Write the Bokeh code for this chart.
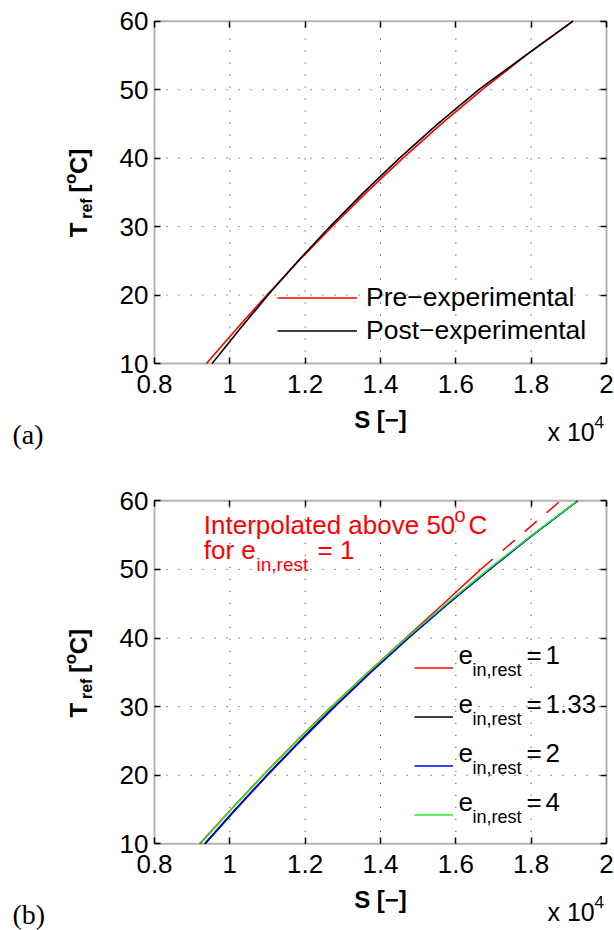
import math
from bokeh.plotting import figure
from bokeh.models import (Label, Legend, LegendItem, FixedTicker, LinearAxis,
                          Range1d, BoxAnnotation, CustomJSTickFormatter)
from bokeh.layouts import column
from bokeh.embed import file_html
from bokeh.resources import INLINE

# ---------------- data ----------------
# panel (a)
T_a = [10, 15, 20, 25, 30, 35, 40, 45, 50, 55, 60]
S_pre = [9380, 10170, 10985, 11830, 12710, 13630, 14595, 15615, 16700, 17860, 19110]
S_post = [9530, 10260, 11015, 11815, 12660, 13555, 14505, 15520, 16610, 17850, 19110]

# panel (b)
T_b = [10, 15, 20, 25, 30, 35, 40, 45, 50, 55, 60]
S_e133 = [9330, 10140, 10980, 11860, 12770, 13730, 14730, 15785, 16890, 18035, 19235]
S_e2 = [9350, 10160, 11000, 11880, 12790, 13750, 14750, 15800, 16900, 18040, 19240]
S_e4 = [9220, 10040, 10890, 11780, 12710, 13680, 14690, 15750, 16860, 18020, 19230]
T_e1 = [10, 15, 20, 25, 30, 35, 40, 45, 50]
S_e1 = [9200, 10030, 10880, 11770, 12700, 13670, 14670, 15670, 16660]
T_e1_interp = [50, 55, 60]
S_e1_interp = [16660, 17720, 18780]

x_ticks = [8000, 10000, 12000, 14000, 16000, 18000, 20000]
x_tick_labels = ["0.8", "1", "1.2", "1.4", "1.6", "1.8", "2"]
y_ticks = [10, 20, 30, 40, 50, 60]

legend_a = ["Pre\u2212experimental", "Post\u2212experimental"]
legend_b_values = ["1", "1.33", "2", "4"]

FONT = "Liberation Sans"
W, H = 614, 465
BL, BR = 154, 606          # plot box left/right in pixels


def make_fig(bt, bb):
    xs = (x_ticks[-1] - x_ticks[0]) / (BR - BL)
    ys = (y_ticks[-1] - y_ticks[0]) / (bb - bt)
    p = figure(width=W, height=H, output_backend="svg", toolbar_location=None,
               x_axis_type=None, y_axis_type=None,
               x_range=Range1d(x_ticks[0] - BL * xs, x_ticks[-1] + (W - BR) * xs),
               y_range=Range1d(y_ticks[0] - (H - bb) * ys, y_ticks[-1] + bt * ys),
               min_border=0)
    p.background_fill_color = "white"
    p.border_fill_color = "white"
    p.outline_line_color = None

    # dotted grid
    xg = x_ticks[1:-1]
    yg = y_ticks[1:-1]
    p.segment(x0=xg, y0=[y_ticks[0]] * len(xg), x1=xg, y1=[y_ticks[-1]] * len(xg),
              line_color="black", line_alpha=0.85, line_width=1, line_dash="1 11")
    p.segment(x0=[x_ticks[0]] * len(yg), y0=yg, x1=[x_ticks[-1]] * len(yg), y1=yg,
              line_color="black", line_alpha=0.85, line_width=1, line_dash="1 11")

    common = dict(axis_line_color=None, major_tick_in=6, major_tick_out=0,
                  minor_tick_in=0, minor_tick_out=0, major_tick_line_color="black",
                  major_tick_line_width=1.5,
                  major_label_text_font=FONT, major_label_text_font_size="26px",
                  major_label_text_color="black")
    yax = LinearAxis(fixed_location=x_ticks[0], ticker=FixedTicker(ticks=y_ticks),
                     major_label_standoff=6, **common)
    xax = LinearAxis(fixed_location=y_ticks[0], ticker=FixedTicker(ticks=x_ticks),
                     major_label_standoff=11,
                     major_label_overrides={t: l for t, l in zip(x_ticks, x_tick_labels)},
                     **common)
    p.add_layout(yax, "left")
    p.add_layout(xax, "below")
    hidden = dict(common, major_label_text_font_size="0px")
    rax = LinearAxis(fixed_location=x_ticks[-1], ticker=FixedTicker(ticks=y_ticks),
                     formatter=CustomJSTickFormatter(code="return ''"), **hidden)
    tax = LinearAxis(fixed_location=y_ticks[-1], ticker=FixedTicker(ticks=x_ticks),
                     formatter=CustomJSTickFormatter(code="return ''"), **hidden)
    p.add_layout(rax, "right")
    p.add_layout(tax, "above")

    p.add_layout(BoxAnnotation(left=x_ticks[0], right=x_ticks[-1],
                               bottom=y_ticks[0], top=y_ticks[-1],
                               fill_alpha=0, line_color="black", line_width=2))
    return p


def lab(p, x, ytop, text, size, color="black", bold=False, rotated=False,
        font=FONT, align="left", k=0.35):
    """x, ytop: wanted pixel position (from canvas top-left) of the baseline start."""
    if rotated:
        x = x - k * size
        angle = math.pi / 2
    else:
        ytop = ytop - k * size
        angle = 0.0
    p.add_layout(Label(x=x, y=H - ytop, x_units="screen", y_units="screen", text=text,
                       text_font=font, text_font_size=f"{size}px", text_color=color,
                       text_font_style="bold" if bold else "normal",
                       angle=angle, text_align=align, text_baseline="alphabetic"))


def decorate(p, bb, tag):
    # y axis label  T_ref [oC]   (rotated, reading upwards)
    lab(p, 86.7, bb - 126.3, "T", 24, bold=True, rotated=True)
    lab(p, 91.7, bb - 144.7, "ref", 16, bold=True, rotated=True)
    lab(p, 86.7, bb - 171, "[", 24, bold=True, rotated=True)
    lab(p, 75.5, bb - 179.5, "o", 17, bold=True, rotated=True)
    lab(p, 86.7, bb - 189.5, "C]", 24, bold=True, rotated=True)
    # x axis label
    lab(p, 380, bb + 64, "S [\u2212]", 24, bold=True, align="center")
    # multiplier
    lab(p, 547, bb + 77, "x 10", 25)
    lab(p, 594, bb + 64, "4", 17)
    # panel tag
    lab(p, 12, bb + 77, tag, 28, font="Liberation Serif", k=0.22)


# ---------------- panel (a) ----------------
BB_A = 363.0
pa = make_fig(20.7, BB_A)
r_pre = pa.line(S_pre, T_a, line_color="#ff0000", line_width=1.6)
r_post = pa.line(S_post, T_a, line_color="black", line_width=1.6)
leg_a = Legend(items=[LegendItem(label=legend_a[0], renderers=[r_pre]),
                      LegendItem(label=legend_a[1], renderers=[r_post])],
               location=(277, H - 346.5), padding=0, margin=0, spacing=0,
               glyph_width=80, glyph_height=33, label_height=33,
               label_standoff=9, border_line_color=None, background_fill_alpha=0,
               label_text_font=FONT, label_text_font_size="26.5px",
               label_text_color="black")
pa.add_layout(leg_a)
decorate(pa, BB_A, "(a)")

# ---------------- panel (b) ----------------
BB_B = 378.3
pb = make_fig(35.3, BB_B)
r1 = pb.line(S_e1, T_e1, line_color="#ff0000", line_width=1.5)
pb.line(S_e1_interp, T_e1_interp, line_color="#ff0000", line_width=1.5, line_dash="16 13")
r2 = pb.line(S_e133, T_b, line_color="black", line_width=1.5)
r3 = pb.line(S_e2, T_b, line_color="#0000ff", line_width=1.5)
r4 = pb.line(S_e4, T_b, line_color="#22ee22", line_width=1.5)
leg_b = Legend(items=[LegendItem(label=" ", renderers=[r]) for r in (r1, r2, r3, r4)],
               location=(414, H - 373.5), padding=0, margin=0, spacing=0,
               glyph_width=39, glyph_height=49, label_height=49, label_width=1,
               label_standoff=0, border_line_color=None, background_fill_alpha=0,
               label_text_font=FONT, label_text_font_size="8px")
pb.add_layout(leg_b)
decorate(pb, BB_B, "(b)")

# legend texts for (b): e_{in,rest} = value
item_y = [201, 250, 299, 348]   # centre of each legend sample, pixels from canvas top
for yy, v in zip(item_y, legend_b_values):
    lab(pb, 458, yy - 2, "e", 26)
    lab(pb, 472, yy + 10, "in,rest", 18)
    lab(pb, 526, yy - 2, "=", 26)
    lab(pb, 545, yy - 2, v, 26)

# annotation
RED = "#ff0000"
lab(pb, 203.3, 68.3, "Interpolated above 50", 26, color=RED)
lab(pb, 454, 56, "o", 20, color=RED)
lab(pb, 468, 68.3, "C", 26, color=RED)
lab(pb, 203.3, 93.3, "for e", 26, color=RED)
lab(pb, 256, 105.7, "in,rest", 19, color=RED)
lab(pb, 317, 93.3, "= 1", 26, color=RED)

layout = column(pa, pb, spacing=0)
open("out.html", "w").write(file_html(layout, INLINE))
